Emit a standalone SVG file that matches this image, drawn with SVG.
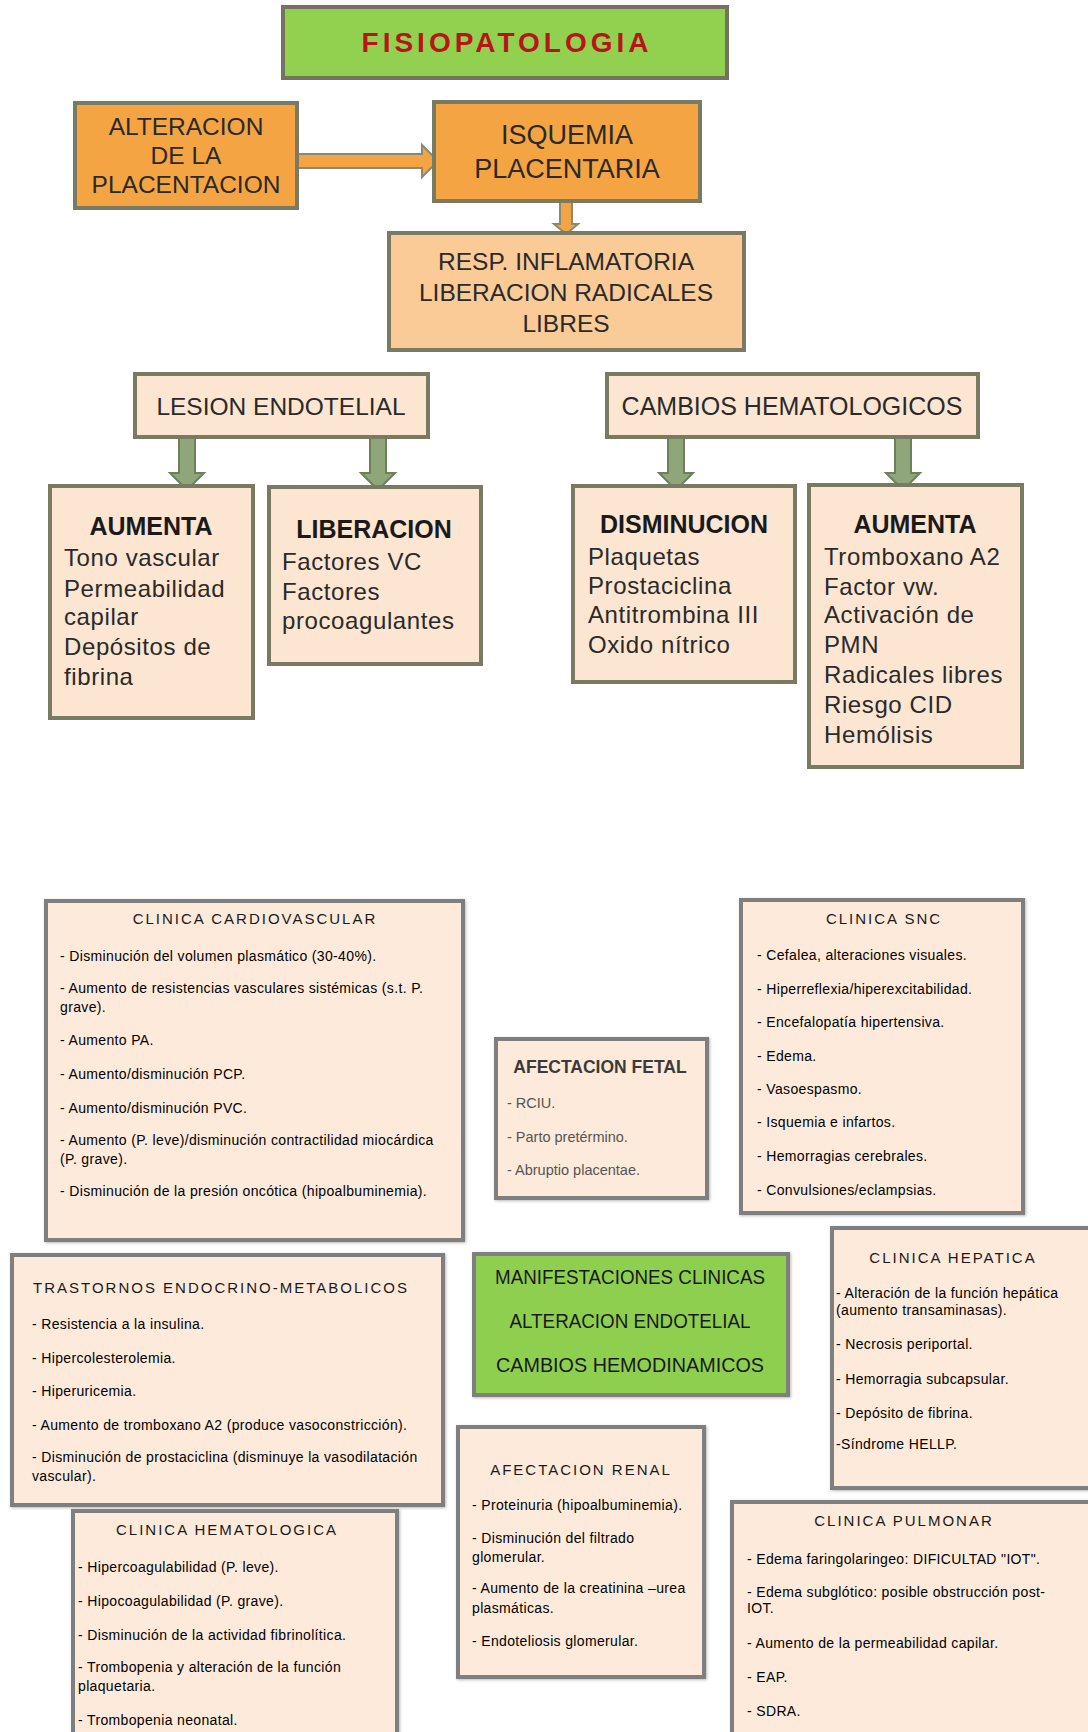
<svg xmlns="http://www.w3.org/2000/svg" width="1088" height="1732" viewBox="0 0 1088 1732">
<defs>
<style>
text{font-family:"Liberation Sans",Arial,sans-serif;}
.org{fill:#F4A443;stroke:#7a7a62;stroke-width:4;}
.resp{fill:#FACB96;stroke:#7a7a62;stroke-width:4;}
.lt{fill:#FCE5D1;stroke:#7a7a62;stroke-width:4;}
.grn{fill:#92D050;stroke:#737360;stroke-width:4;}
.box{fill:#FDEADA;stroke:#7f7f7f;stroke-width:4;filter:url(#sh);}
.gbox{fill:#8ECF4F;stroke:#7f7f7f;stroke-width:4;filter:url(#sh);}
.top{font-size:24.5px;fill:#2a2a2a;text-anchor:middle;}
.hd{font-size:25px;font-weight:bold;fill:#1a1a1a;text-anchor:middle;}
.bd{font-size:24px;letter-spacing:0.6px;fill:#2a2a2a;}
.ttl{font-size:15px;letter-spacing:2px;fill:#1a1a1a;}
.it{font-size:14px;letter-spacing:0.35px;fill:#000;}
.fit{font-size:14.5px;fill:#555;}
.man{font-size:20px;fill:#1a1a1a;text-anchor:middle;}
.oa{fill:#F4A443;stroke:#8a8a70;stroke-width:2;}
.ga{fill:#8FA67A;stroke:#6d805c;stroke-width:2;}
</style>
<filter id="sh" x="-5%" y="-5%" width="110%" height="110%">
<feDropShadow dx="1" dy="1" stdDeviation="1.5" flood-color="#888" flood-opacity="0.6"/>
</filter>
</defs>
<rect width="1088" height="1732" fill="#ffffff"/>

<g id="connectors">
<path class="oa" d="M297,154 H422 V145 L438,161 L422,177 V168 H297 Z"/>
<path class="oa" d="M560,201 V224 H554 L566,234 L578,224 H572 V201 Z"/>
<path class="ga" d="M179,437 V473 H170 L187,490 L204,473 H195 V437 Z"/>
<path class="ga" d="M370,437 V473 H361 L378,490 L395,473 H386 V437 Z"/>
<path class="ga" d="M668,437 V473 H659 L676,490 L693,473 H684 V437 Z"/>
<path class="ga" d="M895,437 V473 H886 L903,490 L920,473 H911 V437 Z"/>
</g>

<g id="n-title">
<rect class="grn" x="283" y="7" width="444" height="71"/>
<text x="507" y="52" text-anchor="middle" font-size="28" font-weight="bold" letter-spacing="4" fill="#B8151B">FISIOPATOLOGIA</text>
</g>

<g id="n-alteracion">
<rect class="org" x="75" y="103" width="222" height="105"/>
<text class="top" x="186" y="135">ALTERACION</text>
<text class="top" x="186" y="164">DE LA</text>
<text class="top" x="186" y="193">PLACENTACION</text>
</g>

<g id="n-isquemia">
<rect class="org" x="434" y="102" width="266" height="99"/>
<text class="top" x="567" y="144" style="font-size:27px">ISQUEMIA</text>
<text class="top" x="567" y="178" style="font-size:27px">PLACENTARIA</text>
</g>

<g id="n-resp">
<rect class="resp" x="389" y="233" width="355" height="117"/>
<text class="top" x="566" y="270">RESP. INFLAMATORIA</text>
<text class="top" x="566" y="301">LIBERACION RADICALES</text>
<text class="top" x="566" y="332">LIBRES</text>
</g>

<g id="n-lesion">
<rect class="lt" x="135" y="374" width="293" height="63"/>
<text class="top" x="281" y="415">LESION ENDOTELIAL</text>
</g>

<g id="n-cambios">
<rect class="lt" x="607" y="374" width="371" height="63"/>
<text class="top" x="792" y="415" style="font-size:25px">CAMBIOS HEMATOLOGICOS</text>
</g>

<g id="n-aumenta1">
<rect class="lt" x="50" y="486" width="203" height="232"/>
<text class="hd" x="151" y="535">AUMENTA</text>
<text class="bd" x="64" y="566">Tono vascular</text>
<text class="bd" x="64" y="597">Permeabilidad</text>
<text class="bd" x="64" y="625">capilar</text>
<text class="bd" x="64" y="655">Depósitos de</text>
<text class="bd" x="64" y="685">fibrina</text>
</g>

<g id="n-liberacion">
<rect class="lt" x="269" y="487" width="212" height="177"/>
<text class="hd" x="374" y="538">LIBERACION</text>
<text class="bd" x="282" y="570">Factores VC</text>
<text class="bd" x="282" y="600">Factores</text>
<text class="bd" x="282" y="629">procoagulantes</text>
</g>

<g id="n-disminucion">
<rect class="lt" x="573" y="486" width="222" height="196"/>
<text class="hd" x="684" y="533">DISMINUCION</text>
<text class="bd" x="588" y="565">Plaquetas</text>
<text class="bd" x="588" y="594">Prostaciclina</text>
<text class="bd" x="588" y="623">Antitrombina III</text>
<text class="bd" x="588" y="653">Oxido nítrico</text>
</g>

<g id="n-aumenta2">
<rect class="lt" x="809" y="485" width="213" height="282"/>
<text class="hd" x="915" y="533">AUMENTA</text>
<text class="bd" x="824" y="565">Tromboxano A2</text>
<text class="bd" x="824" y="595">Factor vw.</text>
<text class="bd" x="824" y="623">Activación de</text>
<text class="bd" x="824" y="653">PMN</text>
<text class="bd" x="824" y="683">Radicales libres</text>
<text class="bd" x="824" y="713">Riesgo CID</text>
<text class="bd" x="824" y="743">Hemólisis</text>
</g>

<g id="n-cardio">
<rect class="box" x="46" y="901" width="417" height="339"/>
<text class="ttl" x="255" y="924" text-anchor="middle">CLINICA CARDIOVASCULAR</text>
<text class="it" x="60" y="961">- Disminución del volumen plasmático (30-40%).</text>
<text class="it" x="60" y="993">- Aumento de resistencias vasculares sistémicas (s.t. P.</text>
<text class="it" x="60" y="1012">grave).</text>
<text class="it" x="60" y="1045">- Aumento PA.</text>
<text class="it" x="60" y="1079">- Aumento/disminución PCP.</text>
<text class="it" x="60" y="1113">- Aumento/disminución PVC.</text>
<text class="it" x="60" y="1145">- Aumento (P. leve)/disminución contractilidad miocárdica</text>
<text class="it" x="60" y="1164">(P. grave).</text>
<text class="it" x="60" y="1196">- Disminución de la presión oncótica (hipoalbuminemia).</text>
</g>

<g id="n-fetal">
<rect class="box" x="496" y="1039" width="211" height="159"/>
<text x="600" y="1073" text-anchor="middle" font-size="17.5" font-weight="bold" fill="#3a3a3a">AFECTACION FETAL</text>
<text class="fit" x="507" y="1108">- RCIU.</text>
<text class="fit" x="507" y="1142">- Parto pretérmino.</text>
<text class="fit" x="507" y="1175">- Abruptio placentae.</text>
</g>

<g id="n-snc">
<rect class="box" x="741" y="900" width="282" height="313"/>
<text class="ttl" x="884" y="924" text-anchor="middle">CLINICA SNC</text>
<text class="it" x="757" y="960">- Cefalea, alteraciones visuales.</text>
<text class="it" x="757" y="994">- Hiperreflexia/hiperexcitabilidad.</text>
<text class="it" x="757" y="1027">- Encefalopatía hipertensiva.</text>
<text class="it" x="757" y="1061">- Edema.</text>
<text class="it" x="757" y="1094">- Vasoespasmo.</text>
<text class="it" x="757" y="1127">- Isquemia e infartos.</text>
<text class="it" x="757" y="1161">- Hemorragias cerebrales.</text>
<text class="it" x="757" y="1195">- Convulsiones/eclampsias.</text>
</g>

<g id="n-trastornos">
<rect class="box" x="12" y="1255" width="431" height="250"/>
<text class="ttl" x="33" y="1293">TRASTORNOS ENDOCRINO-METABOLICOS</text>
<text class="it" x="32" y="1329">- Resistencia a la insulina.</text>
<text class="it" x="32" y="1363">- Hipercolesterolemia.</text>
<text class="it" x="32" y="1396">- Hiperuricemia.</text>
<text class="it" x="32" y="1430">- Aumento de tromboxano A2 (produce vasoconstricción).</text>
<text class="it" x="32" y="1462">- Disminución de prostaciclina (disminuye la vasodilatación</text>
<text class="it" x="32" y="1481">vascular).</text>
</g>

<g id="n-manifestaciones">
<rect class="gbox" x="474" y="1254" width="314" height="141"/>
<text class="man" x="630" y="1284" textLength="270" lengthAdjust="spacingAndGlyphs">MANIFESTACIONES CLINICAS</text>
<text class="man" x="630" y="1328" textLength="241" lengthAdjust="spacingAndGlyphs">ALTERACION ENDOTELIAL</text>
<text class="man" x="630" y="1372" textLength="268" lengthAdjust="spacingAndGlyphs">CAMBIOS HEMODINAMICOS</text>
</g>

<g id="n-hepatica">
<rect class="box" x="832" y="1228" width="262" height="260"/>
<text class="ttl" x="953" y="1263" text-anchor="middle">CLINICA HEPATICA</text>
<text class="it" x="836" y="1298">- Alteración de la función hepática</text>
<text class="it" x="836" y="1315">(aumento transaminasas).</text>
<text class="it" x="836" y="1349">- Necrosis periportal.</text>
<text class="it" x="836" y="1384">- Hemorragia subcapsular.</text>
<text class="it" x="836" y="1418">- Depósito de fibrina.</text>
<text class="it" x="836" y="1449">-Síndrome HELLP.</text>
</g>

<g id="n-renal">
<rect class="box" x="458" y="1427" width="246" height="250"/>
<text class="ttl" x="581" y="1475" text-anchor="middle">AFECTACION RENAL</text>
<text class="it" x="472" y="1510">- Proteinuria (hipoalbuminemia).</text>
<text class="it" x="472" y="1543">- Disminución del filtrado</text>
<text class="it" x="472" y="1562">glomerular.</text>
<text class="it" x="472" y="1593">- Aumento de la creatinina –urea</text>
<text class="it" x="472" y="1613">plasmáticas.</text>
<text class="it" x="472" y="1646">- Endoteliosis glomerular.</text>
</g>

<g id="n-hematologica">
<rect class="box" x="73" y="1511" width="324" height="240"/>
<text class="ttl" x="227" y="1535" text-anchor="middle">CLINICA HEMATOLOGICA</text>
<text class="it" x="78" y="1572">- Hipercoagulabilidad (P. leve).</text>
<text class="it" x="78" y="1606">- Hipocoagulabilidad (P. grave).</text>
<text class="it" x="78" y="1640">- Disminución de la actividad fibrinolítica.</text>
<text class="it" x="78" y="1672">- Trombopenia y alteración de la función</text>
<text class="it" x="78" y="1691">plaquetaria.</text>
<text class="it" x="78" y="1725">- Trombopenia neonatal.</text>
</g>

<g id="n-pulmonar">
<rect class="box" x="732" y="1502" width="370" height="260"/>
<text class="ttl" x="904" y="1526" text-anchor="middle">CLINICA PULMONAR</text>
<text class="it" x="747" y="1564">- Edema faringolaringeo: DIFICULTAD "IOT".</text>
<text class="it" x="747" y="1597">- Edema subglótico: posible obstrucción post-</text>
<text class="it" x="747" y="1613">IOT.</text>
<text class="it" x="747" y="1648">- Aumento de la permeabilidad capilar.</text>
<text class="it" x="747" y="1682">- EAP.</text>
<text class="it" x="747" y="1716">- SDRA.</text>
</g>
</svg>
